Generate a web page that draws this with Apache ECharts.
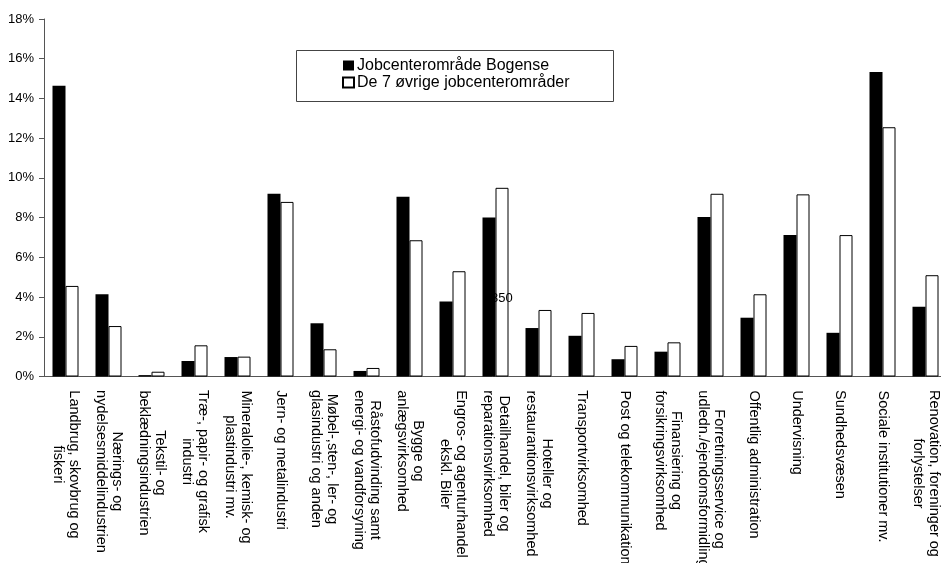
<!DOCTYPE html>
<html>
<head>
<meta charset="utf-8">
<script src="https://cdn.jsdelivr.net/npm/echarts@6/dist/echarts.min.js"></script>
<style>
html,body{margin:0;padding:0;background:#fff;}
#main{width:941px;height:563px;}
</style>
</head>
<body>
<div id="main"></div>
<script>
const categories = [
  'Landbrug, skovbrug og\nfiskeri',
  'Nærings- og\nnydelsesmiddelindustrien',
  'Tekstil- og\nbeklædningsindustrien',
  'Træ-, papir- og grafisk\nindustri',
  'Mineralolie-, kemisk- og\nplastindustri mv.',
  'Jern- og metalindustri',
  'Møbel-,sten-, ler- og\nglasindustri og anden',
  'Råstofudvinding samt\nenergi- og vandforsyning',
  'Bygge og\nanlægsvirksomhed',
  'Engros- og agenturhandel\nekskl. Biler',
  'Detailhandel, biler og\nreparationsvirksomhed',
  'Hoteller og\nrestaurantionsvirksomhed',
  'Transportvirksomhed',
  'Post og telekommunikation',
  'Finansiering og\nforsikringsvirksomhed',
  'Forretningsservice og\nudledn./ejendomsformidling',
  'Offentlig administration',
  'Undervisning',
  'Sundhedsvæsen',
  'Sociale institutioner mv.',
  'Renovation, foreninger og\nforlystelser'
];
const seriesNames = ['Jobcenterområde Bogense', 'De 7 øvrige jobcenterområder'];
const bogense = [14.64, 4.14, 0.07, 0.78, 0.98, 9.20, 2.68, 0.28, 9.05, 3.77, 8.00, 2.44, 2.05, 0.87, 1.25, 8.03, 2.96, 7.12, 2.20, 15.33, 3.51];
const oevrige = [4.56, 2.54, 0.24, 1.57, 1.00, 8.79, 1.37, 0.43, 6.86, 5.30, 9.50, 3.35, 3.20, 1.54, 1.72, 9.20, 4.14, 9.17, 7.12, 12.55, 5.10];
const yTicks = {min: 0, max: 18, interval: 2};
const strayText = '350';

const FONT = 'Liberation Sans, Arial, sans-serif';
const LBL_SIZE = 14.5;
// build per-label rich styles so every line is centred inside its label block
const ctx = document.createElement('canvas').getContext('2d');
ctx.font = LBL_SIZE + 'px ' + FONT;
const rich = {};
categories.forEach(function (c, i) {
  const w = Math.max.apply(null, c.split('\n').map(function (s) { return ctx.measureText(s).width; }));
  rich['c' + i] = {width: Math.ceil(w) + 1, align: 'center', fontFamily: FONT, fontSize: LBL_SIZE, lineHeight: 16, color: '#000'};
});

const chart = echarts.init(document.getElementById('main'), null, {renderer: 'canvas'});
chart.setOption({
  animation: false,
  backgroundColor: '#fff',
  grid: {left: 44, top: 19, bottom: 186.5, right: -6, containLabel: false, outerBoundsMode: 'none'},
  legend: {
    data: seriesNames,
    orient: 'vertical',
    left: 342,
    top: 57,
    padding: 0,
    itemGap: 0,
    itemWidth: 11,
    itemHeight: 10,
    icon: 'rect',
    z: 7,
    textStyle: {fontFamily: FONT, fontSize: 16, color: '#000', lineHeight: 17, padding: [0,0,0,-2]}
  },
  graphic: [
    {type: 'rect', z: 6, shape: {x: 296.5, y: 50.5, width: 317, height: 51}, style: {fill: '#fff', stroke: '#444', lineWidth: 1}},
    {type: 'text', z: 3, left: 491, top: 292, style: {text: strayText, font: '13px ' + FONT, fill: '#000'}}
  ],
  xAxis: {
    type: 'category',
    data: categories,
    axisLine: {lineStyle: {color: '#555', width: 1}},
    axisTick: {length: 5, lineStyle: {color: '#555'}},
    axisLabel: {
      rotate: -90,
      interval: 0,
      margin: 13,
      color: '#000',
      fontFamily: FONT,
      fontSize: LBL_SIZE,
      lineHeight: 16,
      formatter: function (v, idx) {
        return v.split('\n').map(function (s) { return '{c' + idx + '|' + s + '}'; }).join('\n');
      },
      rich: rich
    }
  },
  yAxis: {
    type: 'value',
    min: yTicks.min,
    max: yTicks.max,
    interval: yTicks.interval,
    splitLine: {show: false},
    axisLine: {show: true, lineStyle: {color: '#555', width: 1}},
    axisTick: {show: true, length: 5, lineStyle: {color: '#555'}},
    axisLabel: {formatter: '{value}%', color: '#000', fontFamily: FONT, fontSize: 13, margin: 10}
  },
  series: [
    {
      name: seriesNames[0], type: 'bar', data: bogense, barWidth: 13, barGap: '0%', z: 4,
      itemStyle: {color: '#000', borderColor: '#000', borderWidth: 0}
    },
    {
      name: seriesNames[1], type: 'bar', data: oevrige, barWidth: 13, barGap: '0%', z: 2,
      itemStyle: {color: '#fff', borderColor: '#000', borderWidth: 1}
    }
  ]
});
</script>
</body>
</html>
